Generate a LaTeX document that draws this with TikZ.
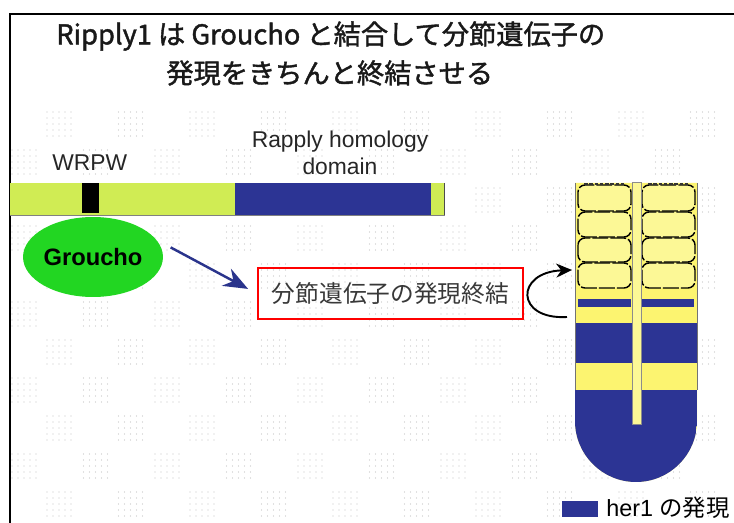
\documentclass[tikz,border=0pt]{standalone}
\usepackage{fontspec}
\setmainfont{Liberation Sans}
\newfontfamily\jp{Noto Sans CJK JP}
\newfontfamily\jptitle{Noto Sans CJK JP}[FakeBold=1.5]
\usetikzlibrary{shapes.geometric,arrows.meta}
\definecolor{barlime}{RGB}{208,236,84}
\definecolor{herblue}{RGB}{44,52,148}
\definecolor{psmyellow}{RGB}{252,244,112}
\definecolor{somyellow}{RGB}{252,248,150}
\definecolor{grouchogreen}{RGB}{34,214,34}
\definecolor{arrownavy}{RGB}{42,52,140}
\tikzset{
	px/.style={x=0.02cm,y=-0.02cm},
	dotgrain/.style={fill=black!24},
	domainlabel/.style={inner sep=0pt,font=\fontsize{13}{15.3}\selectfont,text=black!85},
	titletext/.style={anchor=west,inner sep=0pt,font=\jptitle\fontsize{15.5}{18}\selectfont,text=black!90},
	somite/.style={draw=black,line width=0.8pt,fill=somyellow,rounded corners=4pt,dash pattern=on 9pt off 1.2pt},
}

\begin{document}
\begin{tikzpicture}[px]
		\useasboundingbox (0,0) rectangle (734,523);
		% dotted ground
		\foreach \r in {0,...,5}{
			\foreach \c in {0,...,9}{
				\foreach \i in {-2,...,2}{
					\foreach \j in {-2,...,2}{
						\fill[dotgrain] (59+71.5*\c+6*\i,124+76*\r+6*\j) circle (0.6);
					}}}}
		\foreach \r in {0,...,4}{
			\foreach \c in {0,...,9}{
				\foreach \i in {-2,...,2}{
					\foreach \j in {-2,...,2}{
						\fill[dotgrain] (24+71.5*\c+6*\i,162+76*\r+6*\j) circle (0.6);
					}}}}
		% frame
		\coordinate (framebl) at (10,523);
		\coordinate (frametl) at (10,14);
		\coordinate (frametr) at (734,14);
		\draw[line width=1.5pt] (framebl) -- (frametl) -- (frametr);
		\node[titletext] (title1) at (56,36) {Ripply1 は Groucho と結合して分節遺伝子の};
		\node[titletext] (title2) at (166,73) {発現をきちんと終結させる};
		% Ripply1 protein
		\fill[barlime] (10,183) rectangle (445,215);
		\fill[herblue] (235,183) rectangle (431,215);
		\fill[black] (82,183) rectangle (99,213);
		\draw[black!50,line width=0.4pt] (10,215) -- (445,215);
		\draw[black!70,line width=0.8pt] (444.5,183) -- (444.5,215);
		\node[domainlabel,anchor=west] (wrpw) at (52,163) {WRPW};
		\node[domainlabel,align=center] (rhd) at (340,153) {Rapply homology\\domain};
		\node[ellipse,fill=grouchogreen,minimum width=2.8cm,minimum height=1.6cm,inner sep=0pt,font=\bfseries\fontsize{13.5}{15}\selectfont] (groucho) at (93,257) {Groucho};
		\node[draw=red,line width=1.6pt,minimum width=5.3cm,minimum height=1.02cm,font=\jp\fontsize{13.5}{15}\selectfont,text=black!78] (term) at (390.5,293.5) {分節遺伝子の発現終結};
		\draw[arrownavy,line width=1.4pt,-{Stealth[length=14pt,width=11pt]},shorten <=9pt,shorten >=5.5pt] (groucho.15) -- (term.west);
		% embryo
		\fill[psmyellow] (575,183) -- (575,421) arc (180:0:61) -- (697,183) -- cycle;
		\begin{scope}
			\clip (575,183) -- (575,421) arc (180:0:61) -- (697,183) -- cycle;
			\fill[herblue] (575,390) rectangle (697,490);
			\fill[herblue] (575,323) rectangle (697,363);
		\end{scope}
		\fill[herblue] (578,299) rectangle (631,307);
		\fill[herblue] (642,299) rectangle (694,307);
		\foreach \t/\b in {185/211,212/237,238/262,263/288}{
			\draw[somite] (578,\t) rectangle (631,\b);
			\draw[somite] (642,\t) rectangle (695,\b);
		}
		\draw[black!80,line width=1pt,dash pattern=on 2pt off 1pt] (584,184) -- (625,184) (648,184) -- (689,184);
		\draw[black!55,line width=0.5pt] (575,183) -- (575,390) (697,183) -- (697,390);
		\draw[black!45,fill=somyellow,line width=0.5pt] (632,182) rectangle (641,424);
		\coordinate (loopout) at (567,317);
		\coordinate (loopin) at (572,270);
		\draw[line width=1.1pt,-{Stealth[length=9pt,width=8pt]}] (loopout) .. controls (515,320) and (515,272) .. (loopin);
		% legend
		\node[fill=herblue,minimum width=0.72cm,minimum height=0.32cm,inner sep=0pt] (herkey) at (580,509) {};
		\node[anchor=west,inner sep=0pt,font=\fontsize{13.3}{15}\selectfont] (herlabel) at (606,508) {her1 {\jp の発現}};
	\end{tikzpicture}
\end{document}
